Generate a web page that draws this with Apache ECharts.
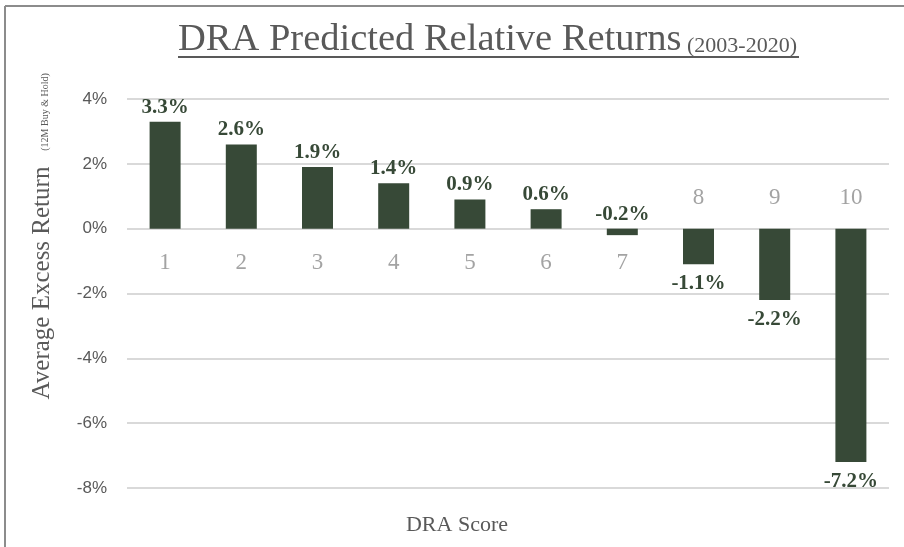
<!DOCTYPE html>
<html>
<head>
<meta charset="utf-8">
<script src="https://cdn.jsdelivr.net/npm/echarts@6/dist/echarts.min.js"></script>
<style>
html,body{margin:0;padding:0;background:#fff;}
#c{width:904px;height:547px;}
</style>
</head>
<body>
<div id="c"></div>
<script>
var categories = ['1','2','3','4','5','6','7','8','9','10'];
var returns = [3.3, 2.6, 1.9, 1.4, 0.9, 0.6, -0.2, -1.1, -2.2, -7.2];
var yTicks = [4, 2, 0, -2, -4, -6, -8];

var barColor = '#374937';
var serif = '"Liberation Serif", "DejaVu Serif", serif';

var chart = echarts.init(document.getElementById('c'));

// in the reference, only the clearly negative bars put their value below and their category above
function isDown(v) { return v < -0.5; }

var catLabelData = categories.map(function (c, i) {
  var down = isDown(returns[i]);
  return {
    value: 0,
    label: {
      position: down ? 'top' : 'bottom',
      distance: down ? 19 : 23
    }
  };
});

chart.setOption({
  animation: false,
  backgroundColor: '#ffffff',
  grid: { left: 127, right: 15, top: 99, bottom: 59 },
  xAxis: {
    type: 'category',
    data: categories,
    axisLine: { show: false },
    axisTick: { show: false },
    axisLabel: { show: false }
  },
  yAxis: {
    type: 'value',
    min: yTicks[yTicks.length - 1],
    max: yTicks[0],
    interval: 2,
    axisLine: { show: false },
    axisTick: { show: false },
    axisLabel: {
      formatter: function (v) { return v + '%'; },
      color: '#595959',
      fontSize: 17,
      fontFamily: '"Liberation Sans", "Open Sans", sans-serif',
      margin: 20
    },
    splitLine: { lineStyle: { color: '#d9d9d9', width: 2 } }
  },
  series: [
    {
      type: 'bar',
      data: returns.map(function (v) {
        var down = isDown(v);
        return { value: v, label: { position: down ? 'bottom' : 'top', distance: down ? 9 : 4 } };
      }),
      barWidth: 31,
      itemStyle: { color: barColor },
      label: {
        show: true,
        formatter: function (p) { return p.value.toFixed(1) + '%'; },
        fontFamily: serif,
        fontWeight: 'bold',
        fontSize: 21,
        color: barColor
      },
      z: 3
    },
    {
      type: 'scatter',
      data: catLabelData,
      symbolSize: 0,
      silent: true,
      label: {
        show: true,
        formatter: function (p) { return categories[p.dataIndex]; },
        fontFamily: serif,
        fontSize: 23,
        color: '#8c8c8c'
      },
      z: 4
    }
  ],
  graphic: [
    { type: 'line', shape: { x1: 5, y1: 6, x2: 904, y2: 6 }, style: { stroke: '#8c8c8c', lineWidth: 2 } },
    { type: 'line', shape: { x1: 5, y1: 6, x2: 5, y2: 547 }, style: { stroke: '#8c8c8c', lineWidth: 2 } },
    {
      type: 'text', x: 178, y: 40,
      style: { text: 'DRA Predicted Relative Returns', font: '38.5px ' + serif, fill: '#595959', textAlign: 'left', textVerticalAlign: 'middle' }
    },
    {
      type: 'text', x: 687, y: 46,
      style: { text: '(2003-2020)', font: '22px ' + serif, fill: '#595959', textAlign: 'left', textVerticalAlign: 'middle' }
    },
    { type: 'line', shape: { x1: 178, y1: 57, x2: 799, y2: 57 }, style: { stroke: '#595959', lineWidth: 2 } },
    {
      type: 'text', x: 42, y: 283, rotation: Math.PI / 2,
      style: { text: 'Average Excess Return', font: '25px ' + serif, fill: '#595959', textAlign: 'center', textVerticalAlign: 'middle' }
    },
    {
      type: 'text', x: 45, y: 112, rotation: Math.PI / 2,
      style: { text: '(12M Buy & Hold)', font: '10px ' + serif, fill: '#595959', textAlign: 'center', textVerticalAlign: 'middle' }
    },
    {
      type: 'text', x: 457, y: 525,
      style: { text: 'DRA Score', font: '22px ' + serif, fill: '#595959', textAlign: 'center', textVerticalAlign: 'middle' }
    }
  ]
});
</script>
</body>
</html>
